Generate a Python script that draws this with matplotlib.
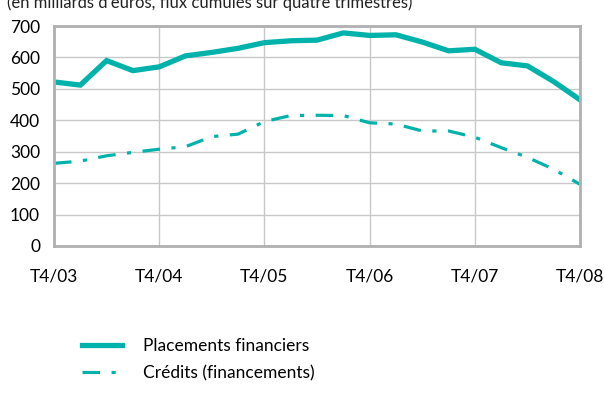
import matplotlib
matplotlib.use("Agg")
import matplotlib.pyplot as plt

plt.rcParams["font.family"] = ["Lato", "DejaVu Sans"]

# quarterly data, T4/03 -> T4/08
quarters = list(range(21))
year_labels = ["T4/03", "T4/04", "T4/05", "T4/06", "T4/07", "T4/08"]
placements = [522, 512, 590, 558, 570, 605, 616, 629, 647, 653, 655, 678,
              670, 672, 649, 621, 626, 583, 573, 523, 465]
credits = [263, 270, 287, 298, 308, 316, 348, 356, 396, 415, 416, 415,
           392, 388, 366, 366, 346, 313, 282, 244, 196]
yticks = [0, 100, 200, 300, 400, 500, 600, 700]

teal = "#00b2aa"

fig = plt.figure(figsize=(6.04, 4.05), dpi=100)
ax = fig.add_axes([0.0894, 0.3926, 0.871, 0.5432])

ax.plot(quarters, placements, color=teal, lw=3.8, solid_joinstyle="miter",
        label="Placements financiers")
ax.plot(quarters, credits, color=teal, lw=2.3,
        linestyle=(0, (5.5, 3.6, 1.3, 3.6)), label="Crédits (financements)")

ax.set_xlim(0, 20)
ax.set_ylim(0, 700)
ax.set_xticks(quarters[::4])
ax.set_xticklabels(year_labels)
ax.set_yticks(yticks)
ax.tick_params(axis="both", length=0, labelsize=12.5, colors="black")
ax.tick_params(axis="x", pad=16)
ax.tick_params(axis="y", pad=10)
ax.grid(True, color="#c8c8c8", lw=1.0)
ax.set_axisbelow(True)
for sp in ax.spines.values():
    sp.set_color("#b0b0b0")
    sp.set_linewidth(2.0)

fig.text(0.012, 0.993, "(en milliards d'euros, flux cumulés sur quatre trimestres)",
         fontsize=12, va="center", ha="left", color="#222222")

fig.legend(loc="upper left", bbox_to_anchor=(0.125, 0.182), frameon=False,
           fontsize=12.5, handlelength=2.3, handletextpad=1.2, labelspacing=0.62,
           borderaxespad=0)

fig.savefig("out.png", dpi=100)
